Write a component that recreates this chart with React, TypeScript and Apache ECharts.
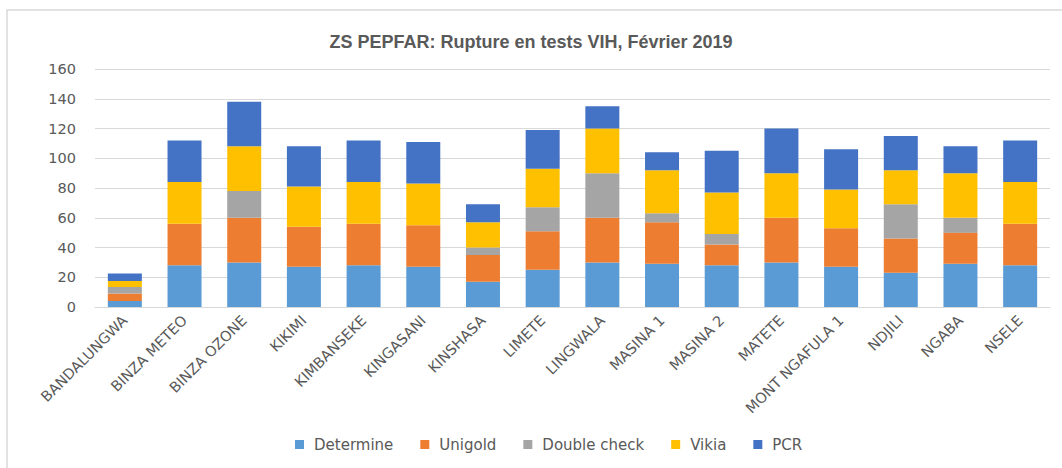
import React, { useEffect, useRef } from "react";
import * as echarts from "echarts";

const categories = [
  "BANDALUNGWA", "BINZA METEO", "BINZA OZONE", "KIKIMI", "KIMBANSEKE", "KINGASANI",
  "KINSHASA", "LIMETE", "LINGWALA", "MASINA 1", "MASINA 2", "MATETE",
  "MONT NGAFULA 1", "NDJILI", "NGABA", "NSELE",
];
const determine = [4, 28, 30, 27, 28, 27, 17, 25, 30, 29, 28, 30, 27, 23, 29, 28];
const unigold = [5, 28, 30, 27, 28, 28, 18, 26, 30, 28, 14, 30, 26, 23, 21, 28];
const doubleCheck = [4.5, 0, 18, 0, 0, 0, 5, 16, 30, 6, 7, 0, 0, 23, 10, 0];
const vikia = [4, 28, 30, 27, 28, 28, 17, 26, 30, 29, 28, 30, 26, 23, 30, 28];
const pcr = [5, 28, 30, 27, 28, 28, 12, 26, 15, 12, 28, 30, 27, 23, 18, 28];
const yTicks = { min: 0, max: 160, interval: 20 };

const seriesDefs = [
  { name: "Determine", data: determine, color: "#5B9BD5" },
  { name: "Unigold", data: unigold, color: "#ED7D31" },
  { name: "Double check", data: doubleCheck, color: "#A5A5A5" },
  { name: "Vikia", data: vikia, color: "#FFC000" },
  { name: "PCR", data: pcr, color: "#4472C4" },
];

export default function App() {
  const ref = useRef<HTMLDivElement>(null);
  useEffect(() => {
    if (!ref.current) return;
    const chart = echarts.init(ref.current, undefined, { renderer: "svg" });
    const font = "DejaVu Sans";
    chart.setOption({
      animation: false,
      backgroundColor: "#ffffff",
      title: {
        text: "ZS PEPFAR: Rupture en tests VIH, Février 2019",
        left: "center",
        top: 28,
        textStyle: { fontFamily: "Liberation Sans", fontWeight: "bold", fontSize: 18, color: "#595959" },
      },
      graphic: [
        {
          type: "rect",
          shape: { x: 7, y: 10, width: 1100, height: 500 },
          style: { fill: "none", stroke: "#d9d9d9", lineWidth: 1.5 },
          silent: true,
        },
      ],
      legend: {
        bottom: 11,
        left: 290,
        icon: "rect",
        itemWidth: 9,
        itemHeight: 9,
        itemGap: 27,
        textStyle: { fontFamily: font, fontSize: 15, color: "#595959", padding: [0, 0, 0, 5] },
        data: seriesDefs.map((s) => s.name),
      },
      grid: { left: 95, right: 12, top: 69, bottom: 161, containLabel: false },
      xAxis: {
        type: "category",
        data: categories,
        axisLine: { lineStyle: { color: "#d9d9d9", width: 1 } },
        axisTick: { show: false },
        axisLabel: {
          rotate: 45,
          interval: 0,
          margin: 11,
          fontFamily: font,
          fontSize: 14.5,
          color: "#595959",
        },
      },
      yAxis: {
        type: "value",
        min: yTicks.min,
        max: yTicks.max,
        interval: yTicks.interval,
        axisLine: { show: false },
        axisTick: { show: false },
        splitLine: { lineStyle: { color: "#d9d9d9", width: 1 } },
        axisLabel: { margin: 19, fontFamily: font, fontSize: 14.5, color: "#595959" },
      },
      series: seriesDefs.map((s) => ({
        name: s.name,
        type: "bar",
        stack: "total",
        barWidth: 34,
        data: s.data,
        itemStyle: { color: s.color },
      })),
    });
    return () => chart.dispose();
  }, []);
  return (
    <div
      ref={ref}
      style={{ position: "absolute", left: 0, top: 0, width: 1062, height: 468 }}
    />
  );
}
